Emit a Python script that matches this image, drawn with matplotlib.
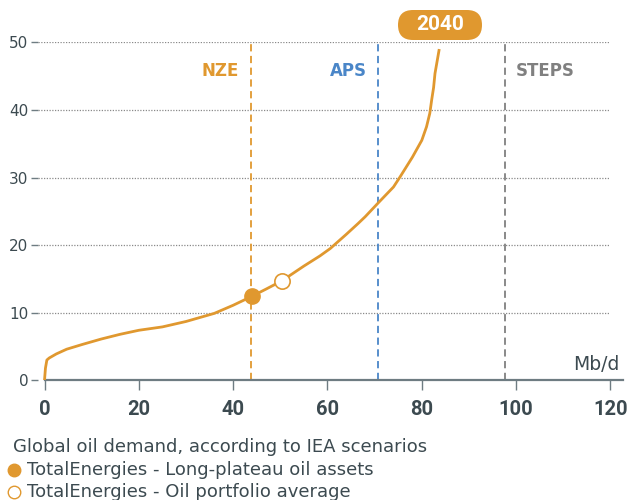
import matplotlib
matplotlib.use("Agg")
from matplotlib import pyplot as plt
from matplotlib.lines import Line2D
from matplotlib.patches import FancyBboxPatch
from matplotlib.transforms import IdentityTransform
from matplotlib.font_manager import FontProperties

# Supply curve (Mb/d, $/b)
curve_x = [0, 0.2, 0.5, 1.0, 2.5, 4.7, 8, 12, 16, 20, 25, 30, 33, 36, 40, 43.9,
           47, 50.3, 55, 58.4, 60.6, 64, 66.5, 68, 70.7, 74, 75.4, 78, 80,
           81, 81.7, 82.1, 82.5, 82.8, 83.3, 83.7]
curve_y = [0, 1.8, 3.0, 3.3, 3.9, 4.6, 5.3, 6.1, 6.8, 7.4, 7.9, 8.7, 9.3, 9.9, 11.1, 12.4,
           13.5, 14.7, 16.9, 18.4, 19.5, 21.6, 23.2, 24.2, 26.2, 28.6, 30.1, 33.0, 35.5,
           37.5, 39.5, 41.5, 43.3, 45.4, 47.4, 49.0]

scen_names = ['NZE', 'APS', 'STEPS']
scen_x = [43.7, 70.7, 97.6]
scen_colors = ['#E0982F', '#4A86C8', '#808080']

long_plateau = (43.9, 12.4)
portfolio_avg = (50.3, 14.7)

xticks = [0, 20, 40, 60, 80, 100, 120]
yticks = [0, 10, 20, 30, 40, 50]

orange = '#E0982F'
textcol = '#3C4A50'
axcol = '#6E7C82'

plt.rcParams['font.family'] = ['DejaVu Sans']
tick_bold = FontProperties(family='Roboto', weight='bold', size=14.5)
badge_bold = FontProperties(family='Roboto', weight='bold', size=15)

fig = plt.figure(figsize=(6.27, 5.0), dpi=100)
ax = fig.add_axes([38/627, 0.2394, (622.7-38)/627, 0.9154-0.2394])
ax.set_xlim(-1.38, 122.6)
ax.set_ylim(0, 50)

# dotted grid, stopping at 120
ax.hlines(yticks[1:], -1.38, 120, colors='#8A8A8A', linestyles=(0, (1, 1.2)), linewidth=0.9)

# scenario lines
for name, xv, c in zip(scen_names, scen_x, scen_colors):
    ax.vlines(xv, 0, 50, colors=c, linestyles=(0, (4, 2.5)), linewidth=1.3)
    if name == 'STEPS':
        ax.text(xv + 2.4, 45.7, name, color=c, ha='left', va='center',
                fontsize=12, fontweight='bold')
    else:
        ax.text(xv - 2.4, 45.7, name, color=c, ha='right', va='center',
                fontsize=12, fontweight='bold')

ax.plot(curve_x, curve_y, '-', color=orange, linewidth=2.0, solid_capstyle='butt', zorder=3)
ax.plot(*long_plateau, 'o', color=orange, markersize=11, zorder=4)
ax.plot(*portfolio_avg, 'o', markerfacecolor='white', markeredgecolor=orange,
        markeredgewidth=1.2, markersize=11, zorder=4)

# "2040" badge (pixel coordinates, origin bottom-left)
badge = FancyBboxPatch((398, 460), 84, 30, boxstyle='round,pad=0,rounding_size=15',
                       fc=orange, ec='none', transform=IdentityTransform())
fig.add_artist(badge)
fig.text(440/627, 1 - 25/500, '2040', color='white', ha='center', va='center',
         fontproperties=badge_bold)

ax.text(122, 0.9, 'Mb/d', color=textcol, ha='right', va='bottom', fontsize=13.5)

for side in ['top', 'right', 'left']:
    ax.spines[side].set_visible(False)
ax.spines['bottom'].set_color(axcol)
ax.spines['bottom'].set_linewidth(1.6)
ax.spines['bottom'].set_bounds(0, 122.6)

ax.set_xticks(xticks)
ax.set_xticklabels([str(v) for v in xticks], fontproperties=tick_bold, color=textcol)
ax.set_yticks(yticks)
ax.set_yticklabels([str(v) for v in yticks], fontsize=11, color=textcol)
ax.tick_params(axis='x', direction='out', length=7, width=1, color=axcol, pad=7)
ax.tick_params(axis='y', direction='out', length=5, width=1, color=axcol, pad=2)

# legend below the chart
fig.text(13/627, 1 - 447/500, 'Global oil demand, according to IEA scenarios',
         color=textcol, fontsize=13, ha='left', va='center')
fig.add_artist(Line2D([14/627], [1 - 470/500], marker='o', color=orange, markersize=9,
                      transform=fig.transFigure))
fig.text(27/627, 1 - 470/500, 'TotalEnergies - Long-plateau oil assets',
         color=textcol, fontsize=13, ha='left', va='center')
fig.add_artist(Line2D([14/627], [1 - 492/500], marker='o', markerfacecolor='white',
                      markeredgecolor=orange, markeredgewidth=1, markersize=9,
                      transform=fig.transFigure))
fig.text(27/627, 1 - 492/500, 'TotalEnergies - Oil portfolio average',
         color=textcol, fontsize=13, ha='left', va='center')

fig.savefig('out.png', dpi=100)
